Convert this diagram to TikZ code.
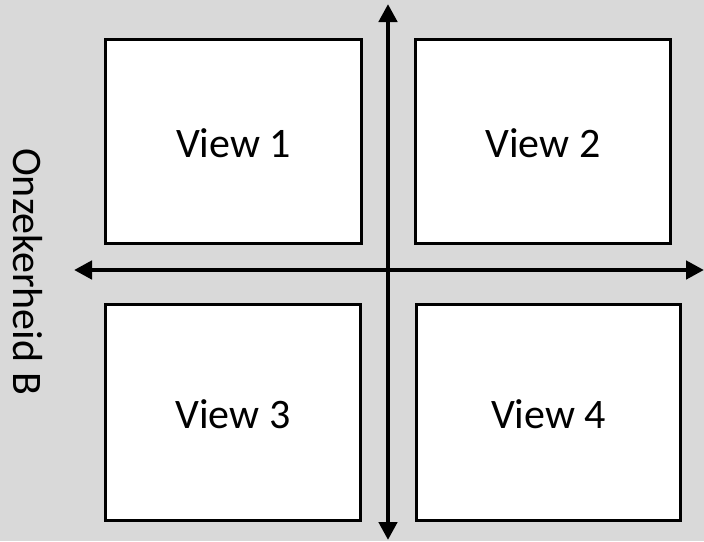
\documentclass[tikz,border=0pt]{standalone}
\usepackage{fontspec}
\setmainfont{Carlito}
\usetikzlibrary{arrows.meta}
\definecolor{panelgray}{HTML}{D9D9D9}
\begin{document}
\begin{tikzpicture}[x=1pt,y=-1pt,
  viewbox/.style={draw=black, fill=white, line width=3pt, inner sep=0pt,
    font=\fontsize{42}{50}\selectfont, text height=31pt, text depth=0pt},
  axis/.style={line width=4.5pt, {Triangle[length=18pt,width=18pt]}-{Triangle[length=18pt,width=18pt]}},
  axislabel/.style={font=\fontsize{42}{50}\selectfont, inner sep=0pt}]
  % background panel
  \fill[panelgray] (0,0) rectangle (704,541);
  \useasboundingbox (0,0) rectangle (704,541);
  % the four quadrants
  \node[viewbox, minimum width=256pt, minimum height=204pt] (v1) at (233.5,141.5) {View 1};
  \node[viewbox, minimum width=255pt, minimum height=204pt] (v2) at (543,141.5) {View 2};
  \node[viewbox, minimum width=255pt, minimum height=216pt] (v3) at (233,412.5) {View 3};
  \node[viewbox, minimum width=264pt, minimum height=216pt] (v4) at (548.5,412.5) {View 4};
  % axis end points
  \coordinate (top) at (388,4);
  \coordinate (bottom) at (388,540);
  \coordinate (left) at (74,270);
  \coordinate (right) at (704,270);
  \draw[axis] (bottom) -- (top);
  \draw[axis] (left) -- (right);
  % vertical axis label
  \node[axislabel, rotate=-90, anchor=base] (lab) at (13,271.5) {Onzekerheid B};
\end{tikzpicture}
\end{document}
